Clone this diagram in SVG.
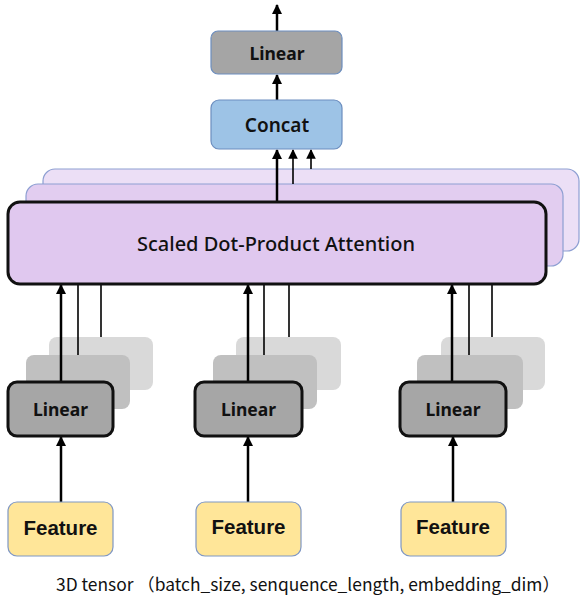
<svg xmlns="http://www.w3.org/2000/svg" width="587" height="600" viewBox="0 0 587 600">
<defs>
<marker id="ah" viewBox="0 0 10 10" refX="9" refY="5" markerWidth="4" markerHeight="4" markerUnits="strokeWidth" orient="auto"><path d="M0,0 L10,5 L0,10 z" fill="#000"/></marker>
<marker id="ahs" viewBox="0 0 10 10" refX="9" refY="5" markerWidth="6" markerHeight="6" markerUnits="strokeWidth" orient="auto"><path d="M0,0 L10,5 L0,10 z" fill="#000"/></marker>
<style>
.lbl{font-family:"Noto Sans","Liberation Sans",sans-serif;fill:#111;text-anchor:middle;dominant-baseline:central}
.b{font-weight:bold}
.ft{font-family:"Liberation Sans",Arial,sans-serif;font-weight:bold;font-size:20.5px}
.thick{stroke:#000;stroke-width:2.5;fill:none}
.thin{stroke:#000;stroke-width:1.6;fill:none}
.ghost1{fill:#c0c0c0}
.ghost2{fill:#d9d9d9}
.lin{fill:#a6a6a6;stroke:#111;stroke-width:3}
.feat{fill:#ffe699;stroke:#7f97c4;stroke-width:1.2}
</style>
</defs>

<g id="linear-stack-1">
<rect class="ghost2" x="49" y="337" width="104" height="53" rx="8"/>
<rect class="ghost1" x="26" y="355" width="104" height="54" rx="8"/>
</g>
<g id="linear-stack-2">
<rect class="ghost2" x="236" y="337" width="105" height="53" rx="8"/>
<rect class="ghost1" x="213" y="355" width="104" height="54" rx="8"/>
</g>
<g id="linear-stack-3">
<rect class="ghost2" x="441" y="337" width="104" height="53" rx="8"/>
<rect class="ghost1" x="417" y="355" width="106" height="54" rx="8"/>
</g>

<g id="attention-stack">
<rect x="43" y="169" width="536" height="82" rx="12" fill="#ecdff6" stroke="#8d9fd2" stroke-width="1.2"/>
<rect x="26" y="184" width="537" height="82" rx="12" fill="#e2cdf0" stroke="#8d9fd2" stroke-width="1.2"/>
</g>

<g id="connectors">
<line class="thick" x1="277" y1="31" x2="277" y2="5" marker-end="url(#ah)"/>
<line class="thick" x1="277" y1="100" x2="277" y2="75" marker-end="url(#ah)"/>
<line class="thick" x1="277" y1="202" x2="277" y2="150" marker-end="url(#ah)"/>
<line class="thin" x1="293" y1="184" x2="293" y2="150" marker-end="url(#ahs)"/>
<line class="thin" x1="311" y1="169" x2="311" y2="150" marker-end="url(#ahs)"/>

<line class="thick" x1="61" y1="382" x2="61" y2="285" marker-end="url(#ah)"/>
<line class="thin" x1="78" y1="355" x2="78" y2="285"/>
<line class="thin" x1="101" y1="337" x2="101" y2="285"/>
<line class="thick" x1="248" y1="382" x2="248" y2="285" marker-end="url(#ah)"/>
<line class="thin" x1="264" y1="355" x2="264" y2="285"/>
<line class="thin" x1="289" y1="337" x2="289" y2="285"/>
<line class="thick" x1="452" y1="382" x2="452" y2="285" marker-end="url(#ah)"/>
<line class="thin" x1="469" y1="355" x2="469" y2="285"/>
<line class="thin" x1="492" y1="337" x2="492" y2="285"/>

<line class="thick" x1="61" y1="502" x2="61" y2="437" marker-end="url(#ah)"/>
<line class="thick" x1="248" y1="502" x2="248" y2="437" marker-end="url(#ah)"/>
<line class="thick" x1="453" y1="502" x2="453" y2="437" marker-end="url(#ah)"/>
</g>

<g id="linear-top">
<rect x="211" y="31" width="131" height="43" rx="7" fill="#a5a5a5" stroke="#6c8ebf" stroke-width="1.2"/>
<text class="lbl b" x="277" y="53" font-size="17.5">Linear</text>
</g>

<g id="concat">
<rect x="211" y="100" width="131" height="49" rx="8" fill="#9dc3e6" stroke="#6c8ebf" stroke-width="1.2"/>
<text class="lbl" x="277" y="125" font-size="19" font-weight="600">Concat</text>
</g>

<g id="attention">
<rect x="8" y="202" width="538" height="82" rx="12" fill="#e0c8ef" stroke="#111" stroke-width="3"/>
<text class="lbl" x="276" y="243" font-size="20" font-weight="500">Scaled Dot-Product Attention</text>
</g>

<g id="linear-1">
<rect class="lin" x="8" y="382" width="105" height="54" rx="9"/>
<text class="lbl b" x="60.5" y="409" font-size="17.5">Linear</text>
</g>
<g id="linear-2">
<rect class="lin" x="195" y="382" width="107" height="54" rx="9"/>
<text class="lbl b" x="248.5" y="409" font-size="17.5">Linear</text>
</g>
<g id="linear-3">
<rect class="lin" x="400" y="382" width="106" height="54" rx="9"/>
<text class="lbl b" x="453" y="409" font-size="17.5">Linear</text>
</g>

<g id="feature-1">
<rect class="feat" x="8" y="502" width="105" height="54" rx="9"/>
<text class="lbl ft" x="60.5" y="527">Feature</text>
</g>
<g id="feature-2">
<rect class="feat" x="196" y="502" width="105" height="54" rx="9"/>
<text class="lbl ft" x="248.5" y="526">Feature</text>
</g>
<g id="feature-3">
<rect class="feat" x="401" y="502" width="105" height="54" rx="9"/>
<text class="lbl ft" x="453" y="526">Feature</text>
</g>

<text id="caption" x="56" y="583" font-size="17.4" font-family="'Noto Sans CJK SC','Noto Sans',sans-serif" fill="#111" dominant-baseline="central">3D tensor （batch_size, senquence_length, embedding_dim）</text>
</svg>
